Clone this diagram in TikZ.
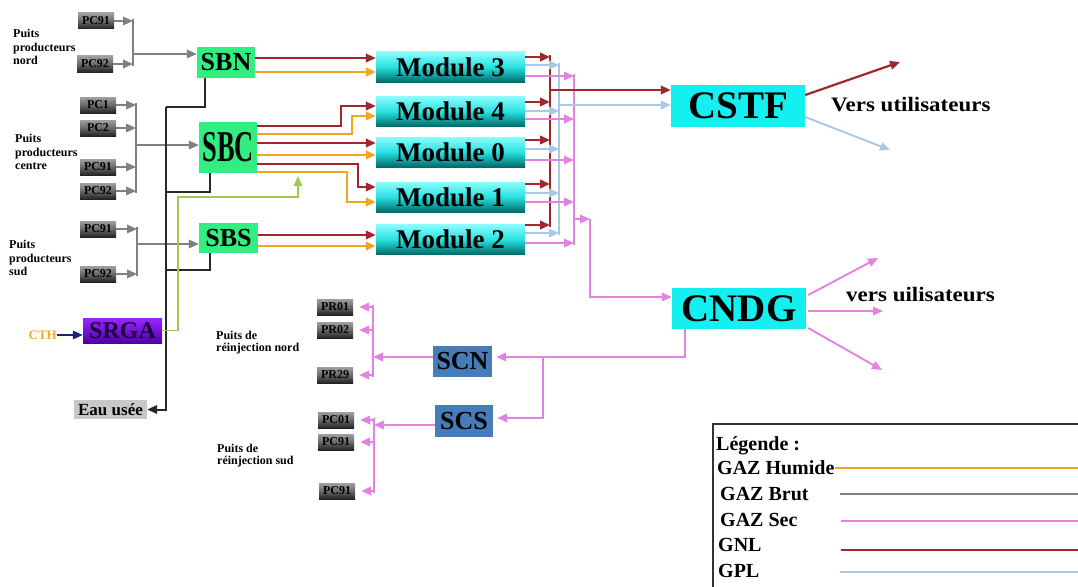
\documentclass[tikz,border=0pt]{standalone}
\usepackage{graphicx}
\usepackage{fontspec}
\setmainfont{Liberation Serif}
\usetikzlibrary{arrows.meta}
\definecolor{gnl}{RGB}{160,40,45}
\definecolor{hum}{RGB}{240,165,35}
\definecolor{brut}{RGB}{128,128,128}
\definecolor{sec}{RGB}{228,130,228}
\definecolor{gpl}{RGB}{170,200,230}
\definecolor{limec}{RGB}{160,200,80}
\definecolor{drainc}{RGB}{40,40,40}
\definecolor{navyc}{RGB}{25,35,120}
\definecolor{sbg}{RGB}{50,238,128}
\definecolor{cyanbox}{RGB}{20,240,240}
\definecolor{scblue}{RGB}{70,125,185}
\definecolor{ctho}{RGB}{240,170,50}
\definecolor{eaug}{RGB}{200,200,200}
\definecolor{pcTop}{RGB}{160,160,160}
\definecolor{pcMid}{RGB}{105,105,105}
\definecolor{pcBot}{RGB}{35,35,35}
\definecolor{modTop}{RGB}{140,252,252}
\definecolor{modMid}{RGB}{40,225,225}
\definecolor{modBot}{RGB}{0,105,105}
\definecolor{srTop}{RGB}{150,40,255}
\definecolor{srBot}{RGB}{80,0,170}
\definecolor{legb}{RGB}{50,50,50}
\begin{document}
\begin{tikzpicture}[x=1pt,y=-1pt,
  arr/.style={-{Triangle[length=10pt,width=8.5pt]}},
  wgnl/.style={draw=gnl,line width=2.2pt},
  whum/.style={draw=hum,line width=2.2pt},
  wbrut/.style={draw=brut,line width=1.8pt},
  wsec/.style={draw=sec,line width=1.9pt},
  wgpl/.style={draw=gpl,line width=1.9pt},
  wlime/.style={draw=limec,line width=1.8pt},
  wdrain/.style={draw=drainc,line width=2pt},
  pc/.style={minimum width=36pt,minimum height=16pt,inner sep=0pt,top color=pcTop,bottom color=pcBot,middle color=pcMid,font=\fontsize{12}{12}\selectfont\bfseries},
  lbl/.style={anchor=north west,align=left,inner sep=0pt,font=\fontsize{12}{13.5}\selectfont\bfseries},
  sb/.style={fill=sbg,inner sep=0pt,font=\fontsize{26}{26}\selectfont\bfseries},
  modbox/.style={minimum width=149pt,minimum height=30pt,inner sep=0pt,top color=modTop,bottom color=modBot,middle color=modMid,font=\fontsize{27}{27}\selectfont\bfseries},
  bigbox/.style={fill=cyanbox,minimum width=134pt,minimum height=42pt,inner sep=0pt,font=\fontsize{39}{39}\selectfont\bfseries},
  scbox/.style={fill=scblue,minimum width=59pt,minimum height=31pt,inner sep=0pt,font=\fontsize{26}{26}\selectfont\bfseries},
  leg/.style={anchor=west,inner sep=0pt,font=\fontsize{20}{20}\selectfont\bfseries}]
\fill[white] (0,0) rectangle (1078,586);
\useasboundingbox (0,0) rectangle (1078,586);

% producing wells
\node[pc] (n1) at (96,21) {PC91};
\node[pc] (n2) at (95,64) {PC92};
\node[pc] (c1) at (98,105) {PC1};
\node[pc] (c2) at (98,128) {PC2};
\node[pc] (c3) at (98,167) {PC91};
\node[pc] (c4) at (98,191) {PC92};
\node[pc] (s1) at (98,229) {PC91};
\node[pc] (s2) at (98,274) {PC92};
\node[lbl] (lN) at (13,29) {Puits\\producteurs\\nord};
\node[lbl] (lC) at (15,134) {Puits\\producteurs\\centre};
\node[lbl] (lS) at (9,240) {Puits\\producteurs\\sud};

% stations
\node[sb,minimum width=58pt,minimum height=31pt] (sbn) at (226,62.5) {SBN};
\node[sb,minimum width=58pt,minimum height=51pt] (sbc) at (228,147.5) {\scalebox{0.6}[1]{\fontsize{44}{44}\selectfont SBC}};
\node[sb,minimum width=59pt,minimum height=30pt] (sbs) at (228.5,238) {SBS};
\node[minimum width=79pt,minimum height=25pt,inner sep=0pt,top color=srTop,bottom color=srBot,text={rgb,255:red,30;green,0;blue,60},font=\fontsize{24}{24}\selectfont\bfseries] (srga) at (122.5,330.5) {SRGA};
\node[anchor=east,inner sep=0pt,text=ctho,font=\fontsize{13}{13}\selectfont\bfseries] (cth) at (57,335) {CTH};
\node[fill=eaug,minimum width=73pt,minimum height=19pt,inner sep=0pt,font=\fontsize{17}{17}\selectfont\bfseries] (eau) at (110.5,409.5) {Eau usée};

% modules
\node[modbox] (m3) at (450.5,67) {Module 3};
\node[modbox] (m4) at (450.5,111.5) {Module 4};
\node[modbox] (m0) at (450.5,152) {Module 0};
\node[modbox] (m1) at (450.5,197) {Module 1};
\node[modbox] (m2) at (450.5,239.5) {Module 2};

\node[bigbox] (cstf) at (738,106) {CSTF};
\node[bigbox,minimum height=41pt] (cndg) at (739,308.5) {CNDG};
\node[anchor=west,inner sep=0pt] (vu1) at (831,105) {\scalebox{1.12}[1]{\fontsize{20.5}{20.5}\selectfont\bfseries Vers utilisateurs}};
\node[anchor=west,inner sep=0pt] (vu2) at (846,295) {\scalebox{1.12}[1]{\fontsize{20.5}{20.5}\selectfont\bfseries vers uilisateurs}};

\node[scbox] (scn) at (462.5,361) {SCN};
\node[scbox,minimum width=58pt,minimum height=32pt] (scs) at (464,421) {SCS};

% reinjection wells
\node[pc] (pr1) at (335,307) {PR01};
\node[pc] (pr2) at (335,330) {PR02};
\node[pc] (pr3) at (335,375) {PR29};
\node[pc] (pc1) at (336,420) {PC01};
\node[pc] (pc2) at (336,442) {PC91};
\node[pc] (pc3) at (337,491) {PC91};
\node[lbl,font=\fontsize{12}{11.5}\selectfont\bfseries] (lrn) at (216,331) {Puits de\\réinjection nord};
\node[lbl,font=\fontsize{12}{12}\selectfont\bfseries] (lrs) at (217,444) {Puits de\\réinjection sud};

% gas brut
\coordinate (bN) at (133,54);
\coordinate (bC) at (136,145);
\coordinate (bS) at (137,244);
\draw[wbrut,arr] (n1.east) -- (n1.east -| bN);
\draw[wbrut,arr] (n2.east) -- (n2.east -| bN);
\draw[wbrut] ([yshift=2pt]n1.east -| bN) -- ([yshift=-2pt]n2.east -| bN);
\draw[wbrut,arr] (bN) -- (bN -| sbn.west);
\foreach \p in {c1,c2,c3,c4} \draw[wbrut,arr] (\p.east) -- (\p.east -| bC);
\draw[wbrut] ([yshift=2pt]c1.east -| bC) -- ([yshift=-2pt]c4.east -| bC);
\draw[wbrut,arr] (bC) -- (bC -| sbc.west);
\foreach \p in {s1,s2} \draw[wbrut,arr] (\p.east) -- (\p.east -| bS);
\draw[wbrut] ([yshift=2pt]s1.east -| bS) -- ([yshift=-2pt]s2.east -| bS);
\draw[wbrut,arr] (bS) -- (bS -| sbs.west);

% drain
\coordinate (d1) at (166,107);
\coordinate (d2) at (166,192);
\coordinate (d3) at (166,270);
\draw[wdrain] (sbn.south -| 205,0) |- (d1);
\draw[wdrain] (sbc.south -| 210,0) |- (d2);
\draw[wdrain] (sbs.south -| 210,0) |- (d3);
\draw[wdrain,arr] (d1) |- (eau.east);

% CTH / SRGA
\draw[draw=navyc,line width=1.8pt,arr] (cth.east) -- (cth.east -| srga.west);
\coordinate (limeEnd) at (298,176);
\draw[wlime,arr] (srga.east) -| (178,197) -| (limeEnd);

% SBN -> module 3
\draw[wgnl,arr] (sbn.east |- 0,58) -- (m3.west |- 0,58);
\draw[whum,arr] (sbn.east |- 0,72) -- (m3.west |- 0,72);
% SBC -> modules 4, 0, 1
\draw[wgnl,arr] (sbc.east |- 0,126) -| (341,106) -- (m4.west |- 0,106);
\draw[whum,arr] (sbc.east |- 0,134) -| (352,116) -- (m4.west |- 0,116);
\draw[wgnl,arr] (sbc.east |- 0,143) -- (m0.west |- 0,143);
\draw[whum,arr] (sbc.east |- 0,155) -- (m0.west |- 0,155);
\draw[wgnl,arr] (sbc.east |- 0,164) -| (358,187) -- (m1.west |- 0,187);
\draw[whum,arr] (sbc.east |- 0,172) -| (347,202) -- (m1.west |- 0,202);
% SBS -> module 2
\draw[wgnl,arr] (sbs.east |- 0,235) -- (m2.west |- 0,235);
\draw[whum,arr] (sbs.east |- 0,246) -- (m2.west |- 0,246);

% module outputs
\coordinate (vR) at (550,0);
\coordinate (vB) at (559,0);
\coordinate (vP) at (574,0);
\draw[wgnl] (vR |- 0,55) -- (vR |- 0,227);
\draw[wgpl] (vB |- 0,63) -- (vB |- 0,235);
\draw[wsec] (vP |- 0,74) -- (vP |- 0,245);
\foreach \m/\a/\b/\c in {m3/57/65/76,m4/102/111/119,m0/140/149/160,m1/184/193/202,m2/225/233/243}{
  \draw[wgnl,arr] (\m.east |- 0,\a) -- (vR |- 0,\a);
  \draw[wgpl,arr] (\m.east |- 0,\b) -- (vB |- 0,\b);
  \draw[wsec,arr] (\m.east |- 0,\c) -- (vP |- 0,\c);
}
\draw[wgnl,arr] (vR |- 0,90) -- (cstf.west |- 0,90);
\draw[wgpl,arr] (vB |- 0,105) -- (cstf.west |- 0,105);
\coordinate (pj) at (590,219);
\draw[wsec,arr] (vP |- 0,219) -- (pj);
\draw[wsec,arr] (pj) |- (cndg.west |- 0,297);

% CSTF outputs
\coordinate (o1) at (900,62);
\coordinate (o2) at (890,150);
\draw[wgnl,arr] (cstf.east |- 0,95) -- (o1);
\draw[wgpl,arr] (cstf.east |- 0,117) -- (o2);
% CNDG outputs
\coordinate (o3) at (878,258);
\coordinate (o4) at (883,311);
\coordinate (o5) at (882,370);
\draw[wsec,arr] ([xshift=2pt]cndg.east |- 0,295) -- (o3);
\draw[wsec,arr] ([xshift=2pt]cndg.east |- 0,311) -- (o4);
\draw[wsec,arr] ([xshift=2pt]cndg.east |- 0,328) -- (o5);

% CNDG -> SCN / SCS
\coordinate (jS) at (543,357);
\draw[wsec,arr,shorten >=4pt] (cndg.south -| 685,0) |- (scn.east |- 0,357);
\draw[wsec,arr,shorten >=4pt] (jS) |- (scs.east |- 0,418);

% SCN -> PR
\coordinate (bRN) at (373,357);
\draw[wsec,arr] (scn.west |- bRN) -- (bRN);
\draw[wsec] ([yshift=2pt]bRN |- pr1.east) -- ([yshift=-2pt]bRN |- pr3.east);
\foreach \p in {pr1,pr2,pr3} \draw[wsec,arr,shorten >=6pt] (bRN |- \p.east) -- (\p.east);
% SCS -> PC
\coordinate (bRS) at (374,425);
\draw[wsec,arr] (scs.west |- bRS) -- (bRS);
\draw[wsec] ([yshift=2pt]bRS |- pc1.east) -- ([yshift=-2pt]bRS |- pc3.east);
\foreach \p in {pc1,pc2,pc3} \draw[wsec,arr,shorten >=6pt] (bRS |- \p.east) -- (\p.east);

% legend
\draw[draw=legb,line width=1.8pt] (713,590) -- (713,424) -- (1082,424);
\node[leg] (lg0) at (716,446) {Légende :};
\node[leg] (lg1) at (717,468) {GAZ Humide};
\node[leg] (lg2) at (720,494) {GAZ Brut};
\node[leg] (lg3) at (720,520) {GAZ Sec};
\node[leg] (lg4) at (718,545) {GNL};
\node[leg] (lg5) at (718,571) {GPL};
\draw[draw=hum,line width=2.5pt] (lg1.east) -- (lg1.east -| 1080,0);
\draw[draw=brut,line width=2.5pt] (840,494) -- (1080,494);
\draw[draw=sec,line width=2.5pt] (841,521) -- (1080,521);
\draw[draw=gnl,line width=2.5pt] (841,550) -- (1080,550);
\draw[draw=gpl,line width=2.5pt] (840,572) -- (1080,572);
\end{tikzpicture}
\end{document}
